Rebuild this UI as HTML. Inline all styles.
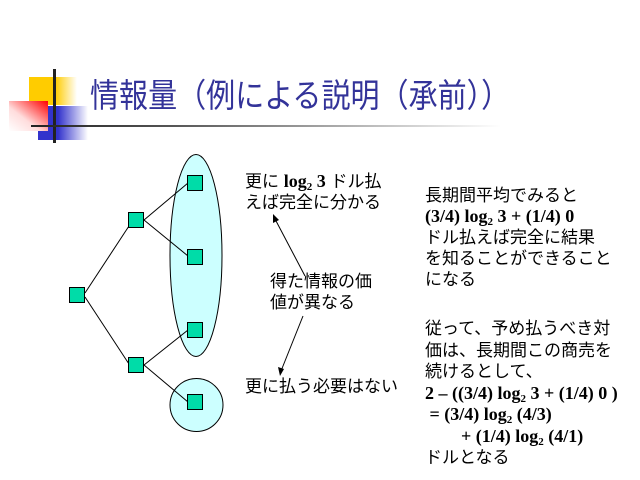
<!DOCTYPE html>
<html><head><meta charset="utf-8"><style>
body{margin:0;width:640px;height:480px;background:#fff;position:relative;overflow:hidden;font-family:"Liberation Sans","Noto Sans CJK JP",sans-serif}
.a{position:absolute}
.t{position:absolute;font-size:17px;line-height:21px;color:#000;white-space:nowrap}
b{font-family:"Liberation Serif",serif;font-weight:bold;font-size:18px}
sub{font-size:11px;vertical-align:-3px;line-height:0}
</style></head><body>
<div class="a" style="left:29px;top:77px;width:48px;height:28px;background:linear-gradient(to right,#ffcc00 0%,#ffcc00 55%,#fff 100%)"></div>
<div class="a" style="left:38px;top:106px;width:50px;height:34px;background:linear-gradient(to right,#3333cc 0%,#3333cc 40%,#fff 100%)"></div>
<div class="a" style="left:9px;top:101px;width:39px;height:30px;background:linear-gradient(to bottom left,#ff0000 0%,#ffdddd 60%,#fff 100%)"></div>
<div class="a" style="left:53px;top:69px;width:3px;height:74px;background:#222"></div>
<div class="a" style="left:31px;top:125px;width:470px;height:2px;background:linear-gradient(to right,#222 0%,#555 30%,#fff 100%)"></div>
<div class="a" style="left:90px;top:79px;font-size:33px;line-height:33px;color:#333399;white-space:nowrap;transform:scaleX(0.88);transform-origin:0 0">情報量（例による説明（承前））</div>
<svg class="a" style="left:0;top:0" width="640" height="480">
<ellipse cx="196" cy="255.5" rx="26" ry="101" fill="#ccffff" stroke="#000"/>
<circle cx="196.5" cy="405" r="26.5" fill="#ccffff" stroke="#000"/>
<g stroke="#000" stroke-width="1">
<line x1="85" y1="293" x2="129" y2="226"/><line x1="85" y1="297" x2="129" y2="364"/>
<line x1="144" y1="220" x2="188" y2="183"/><line x1="144" y1="220" x2="188" y2="256"/>
<line x1="144" y1="365" x2="188" y2="330"/><line x1="144" y1="365" x2="188" y2="402"/>
<line x1="305" y1="276" x2="275" y2="219"/><line x1="303" y1="316" x2="281" y2="371"/>
</g>
<polygon points="273,214 273,223 279,220" fill="#000"/>
<polygon points="280,376 278,367 284,369" fill="#000"/>
<g fill="#00dca8" stroke="#000" stroke-width="1">
<rect x="69.5" y="287.5" width="15" height="15"/>
<rect x="128.5" y="212.5" width="15" height="15"/>
<rect x="128.5" y="357.5" width="15" height="15"/>
<rect x="187.5" y="175.5" width="15" height="15"/>
<rect x="187.5" y="249.5" width="15" height="15"/>
<rect x="187.5" y="322.5" width="15" height="15"/>
<rect x="187.5" y="394.5" width="15" height="15"/>
</g>
</svg>
<div class="t" style="left:245px;top:171px">更に <b>log<sub>2</sub> 3</b> ドル払<br>えば完全に分かる</div>
<div class="t" style="left:270px;top:271px">得た情報の価<br>値が異なる</div>
<div class="t" style="left:245px;top:376px">更に払う必要はない</div>
<div class="t" style="left:425px;top:185px">長期間平均でみると<br><b>(3/4) log<sub>2</sub> 3 + (1/4) 0</b><br>ドル払えば完全に結果<br>を知ることができること<br>になる</div>
<div class="t" style="left:425px;top:318px;line-height:21.5px">従って、予め払うべき対<br>価は、長期間この商売を<br>続けるとして、<br><b>2 – ((3/4) log<sub>2</sub> 3 + (1/4) 0 )</b><br><b>&nbsp;= (3/4) log<sub>2</sub> (4/3)</b><br><b>&nbsp;&nbsp;&nbsp;&nbsp;&nbsp;&nbsp;&nbsp;&nbsp;+ (1/4) log<sub>2</sub> (4/1)</b><br>ドルとなる</div>
</body></html>
